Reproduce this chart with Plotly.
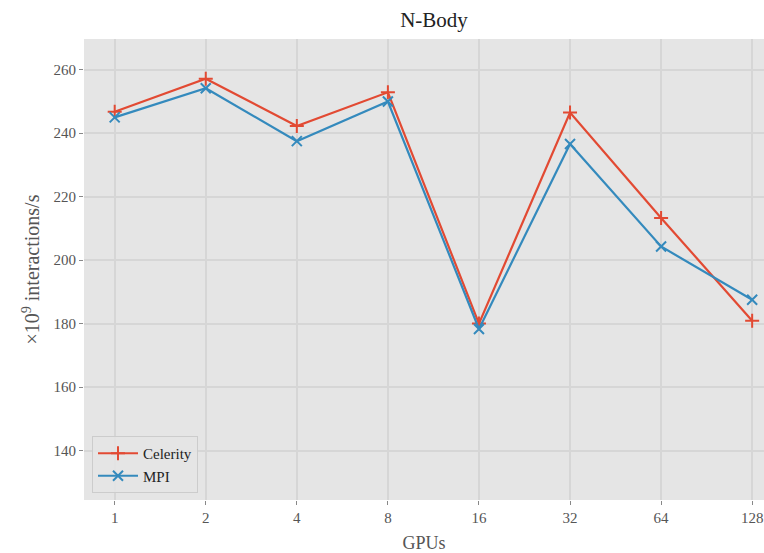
import math
import plotly.graph_objects as go

# GPU counts (log2-spaced x axis) and throughput in 1e9 interactions/s
gpus = [1, 2, 4, 8, 16, 32, 64, 128]
gpu_labels = ["1", "2", "4", "8", "16", "32", "64", "128"]
celerity = [246.8, 257.2, 242.3, 252.9, 180.0, 246.5, 213.3, 180.9]
mpi = [245.0, 254.2, 237.5, 250.0, 178.3, 236.6, 204.3, 187.5]
y_ticks = [140, 160, 180, 200, 220, 240, 260]

RED = "#E24A33"
BLUE = "#348ABD"
FONT = "Liberation Serif"

fig = go.Figure()
fig.add_trace(go.Scatter(
    x=gpus, y=celerity, name="Celerity", mode="lines+markers",
    line=dict(color=RED, width=2.2),
    marker=dict(symbol="cross-thin", size=10, color=RED,
                line=dict(color=RED, width=2)),
))
fig.add_trace(go.Scatter(
    x=gpus, y=mpi, name="MPI", mode="lines+markers",
    line=dict(color=BLUE, width=2.2),
    marker=dict(symbol="x-thin", size=10, color=BLUE,
                line=dict(color=BLUE, width=2)),
))

W, H = 764, 553
ML, MR, MT, MB = 84, 0, 39, 53

fig.update_layout(
    width=W, height=H,
    margin=dict(l=ML, r=MR, t=MT, b=MB),
    paper_bgcolor="white",
    plot_bgcolor="#E5E5E5",
    font=dict(family=FONT, size=15, color="#555555"),
    title=dict(text="N-Body", x=434 / W, xref="container", xanchor="center",
               y=1 - 20 / H, yref="container", yanchor="middle",
               font=dict(family=FONT, size=21, color="#222222")),
    showlegend=True,
    legend=dict(x=8 / (W - ML - MR), y=7 / (H - MT - MB),
                xanchor="left", yanchor="bottom",
                bgcolor="rgba(229,229,229,0.85)", bordercolor="#CCCCCC",
                borderwidth=1, font=dict(family=FONT, size=15, color="#222222"),
                itemwidth=40, tracegroupgap=2),
)

fig.update_xaxes(
    type="log",
    range=[math.log10(2 ** -0.337), math.log10(2 ** 7.13)],
    tickvals=gpus, ticktext=gpu_labels,
    showgrid=True, gridcolor="#D6D6D6", gridwidth=1.5,
    zeroline=False, showline=False,
    ticks="outside", ticklen=4, tickwidth=1, tickcolor="#888888",
    tickfont=dict(family=FONT, size=15, color="#555555"),
    title=dict(text="GPUs", standoff=11,
               font=dict(family=FONT, size=18, color="#555555")),
)
fig.update_yaxes(
    range=[124.4, 269.7],
    tickvals=y_ticks,
    showgrid=True, gridcolor="#D6D6D6", gridwidth=1.5,
    zeroline=False, showline=False,
    ticks="outside", ticklen=4, tickwidth=1, tickcolor="#888888",
    tickfont=dict(family=FONT, size=15, color="#555555"),
    title=dict(text="×10<sup>9</sup> interactions/s", standoff=8,
               font=dict(family=FONT, size=20, color="#555555")),
)

fig.write_html("out.html")
